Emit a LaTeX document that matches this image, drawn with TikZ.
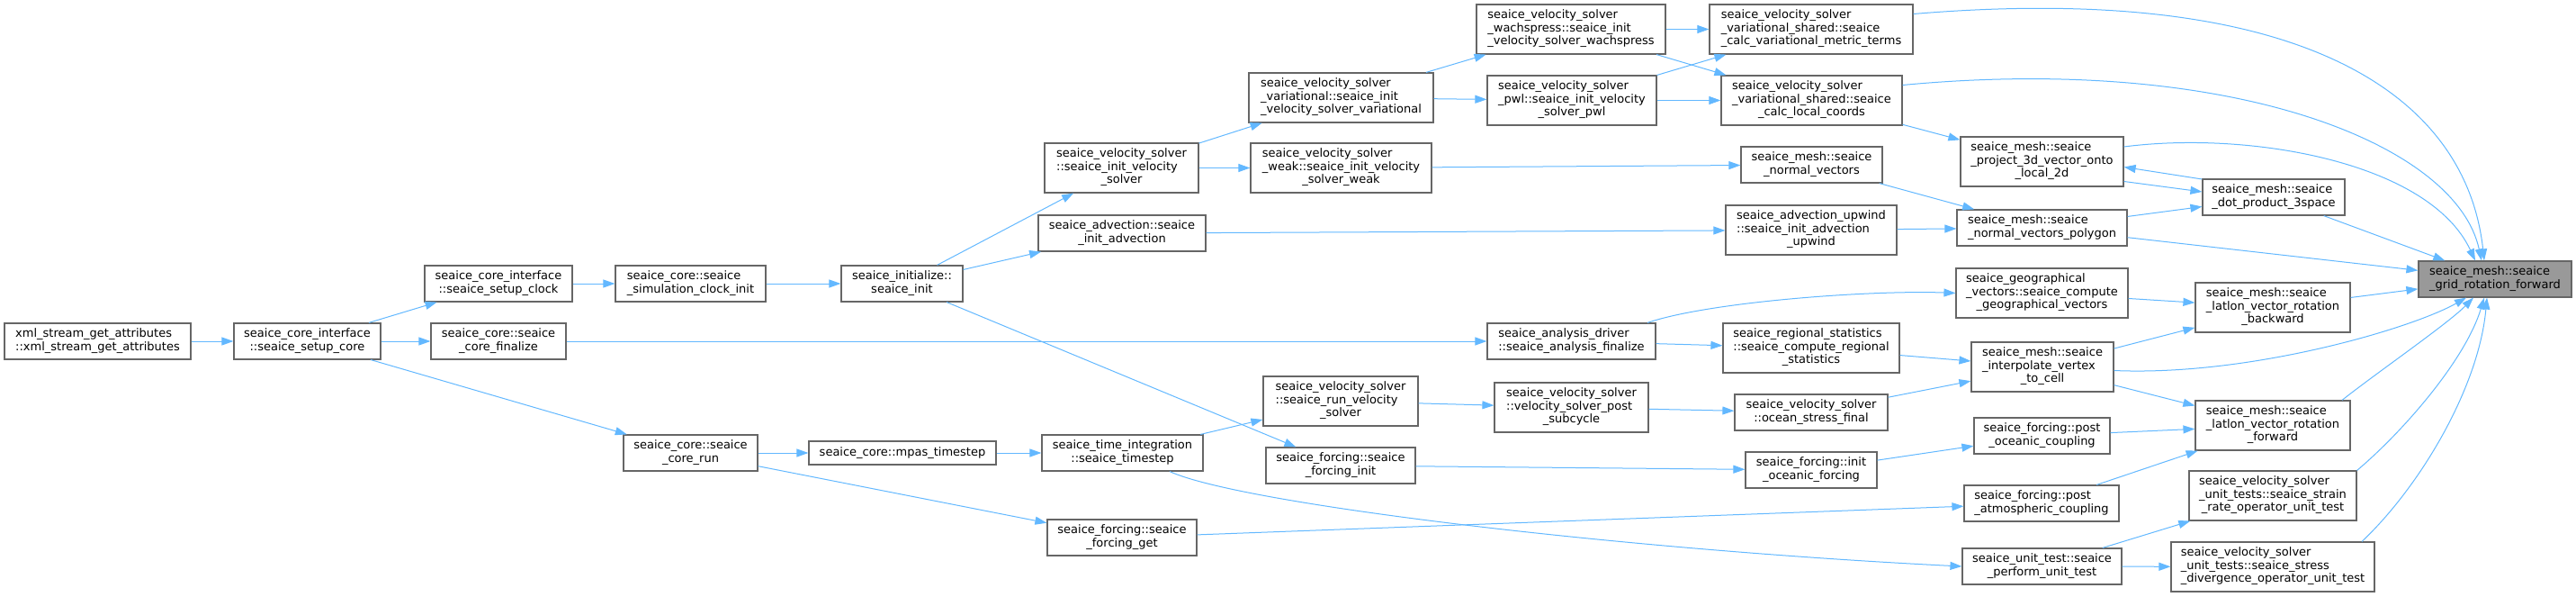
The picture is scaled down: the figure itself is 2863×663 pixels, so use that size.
\documentclass[tikz,border=0pt]{standalone}
\usepackage{fontspec}
\setmainfont{DejaVu Sans}
\usetikzlibrary{arrows.meta}
\definecolor{callblue}{HTML}{63B8FF}
\definecolor{boxgray}{HTML}{666666}
\definecolor{targetgray}{HTML}{999999}
\newcommand{\fnlabel}[2]{\begin{tabular}{@{}l@{}}#1\\\multicolumn{1}{@{}c@{}}{#2}\end{tabular}}
\begin{document}
\begin{tikzpicture}[x=1pt,y=-1pt,font=\fontsize{13}{14.5}\selectfont,
fn/.style={draw=boxgray,line width=1.2pt,fill=white,inner sep=0pt,minimum height=40pt},
tall/.style={minimum height=55pt},
calls/.style={draw=callblue,line width=1pt,-{Triangle[length=13pt,width=9pt]}}]
\useasboundingbox (0,0) rectangle (2863,663);
\node[fn,minimum width=207pt] (xml) at (108.5,379) {\fnlabel{xml\_stream\_get\_attributes}{::xml\_stream\_get\_attributes}};
\node[fn,minimum width=163pt] (setupcore) at (341.5,379) {\fnlabel{seaice\_core\_interface}{::seaice\_setup\_core}};
\node[fn,minimum width=164pt] (setupclock) at (554,315) {\fnlabel{seaice\_core\_interface}{::seaice\_setup\_clock}};
\node[fn,minimum width=150pt] (corefinalize) at (554,379) {\fnlabel{seaice\_core::seaice}{\_core\_finalize}};
\node[fn,minimum width=167pt] (clockinit) at (767.5,315) {\fnlabel{seaice\_core::seaice}{\_simulation\_clock\_init}};
\node[fn,minimum width=149pt] (corerun) at (767.5,503) {\fnlabel{seaice\_core::seaice}{\_core\_run}};
\node[fn,minimum width=208pt,minimum height=26pt] (mpastimestep) at (1003,503) {seaice\_core::mpas\_timestep};
\node[fn,minimum width=135pt] (seaiceinit) at (1002.5,315) {\fnlabel{seaice\_initialize::}{seaice\_init}};
\node[fn,minimum width=179pt] (timestep) at (1247.5,503) {\fnlabel{seaice\_time\_integration}{::seaice\_timestep}};
\node[fn,minimum width=166pt] (forcingget) at (1247,597) {\fnlabel{seaice\_forcing::seaice}{\_forcing\_get}};
\node[fn,tall,minimum width=171pt] (initvelsolver) at (1246.5,186.5) {\fnlabel{seaice\_velocity\_solver\\::seaice\_init\_velocity}{\_solver}};
\node[fn,minimum width=186pt] (initadvection) at (1247,259) {\fnlabel{seaice\_advection::seaice}{\_init\_advection}};
\node[fn,tall,minimum width=205pt] (variational) at (1490.5,108.5) {\fnlabel{seaice\_velocity\_solver\\\_variational::seaice\_init}{\_velocity\_solver\_variational}};
\node[fn,tall,minimum width=201pt] (weak) at (1490.5,186.5) {\fnlabel{seaice\_velocity\_solver\\\_weak::seaice\_init\_velocity}{\_solver\_weak}};
\node[fn,tall,minimum width=172pt] (runvelsolver) at (1490,445.5) {\fnlabel{seaice\_velocity\_solver\\::seaice\_run\_velocity}{\_solver}};
\node[fn,minimum width=166pt] (forcinginit) at (1490,517) {\fnlabel{seaice\_forcing::seaice}{\_forcing\_init}};
\node[fn,tall,minimum width=210pt] (wachspress) at (1746,32.5) {\fnlabel{seaice\_velocity\_solver\\\_wachspress::seaice\_init}{\_velocity\_solver\_wachspress}};
\node[fn,tall,minimum width=188pt] (pwl) at (1747,111.5) {\fnlabel{seaice\_velocity\_solver\\\_pwl::seaice\_init\_velocity}{\_solver\_pwl}};
\node[fn,minimum width=187pt] (analysisfinalize) at (1746.5,379) {\fnlabel{seaice\_analysis\_driver}{::seaice\_analysis\_finalize}};
\node[fn,tall,minimum width=171pt] (postsubcycle) at (1746.5,452.5) {\fnlabel{seaice\_velocity\_solver\\::velocity\_solver\_post}{\_subcycle}};
\node[fn,tall,minimum width=226pt] (metricterms) at (2013,32.5) {\fnlabel{seaice\_velocity\_solver\\\_variational\_shared::seaice}{\_calc\_variational\_metric\_terms}};
\node[fn,tall,minimum width=201pt] (localcoords) at (2013.5,111.5) {\fnlabel{seaice\_velocity\_solver\\\_variational\_shared::seaice}{\_calc\_local\_coords}};
\node[fn,minimum width=157pt] (normalvectors) at (2013.5,183) {\fnlabel{seaice\_mesh::seaice}{\_normal\_vectors}};
\node[fn,tall,minimum width=190pt] (advectionupwind) at (2013,255.5) {\fnlabel{seaice\_advection\_upwind\\::seaice\_init\_advection}{\_upwind}};
\node[fn,tall,minimum width=196pt] (regionalstats) at (2013,386.5) {\fnlabel{seaice\_regional\_statistics\\::seaice\_compute\_regional}{\_statistics}};
\node[fn,minimum width=170pt] (oceanstress) at (2013,458) {\fnlabel{seaice\_velocity\_solver}{::ocean\_stress\_final}};
\node[fn,minimum width=146pt] (initoceanic) at (2013,522) {\fnlabel{seaice\_forcing::init}{\_oceanic\_forcing}};
\node[fn,tall,minimum width=181pt] (project3d) at (2269.5,179.5) {\fnlabel{seaice\_mesh::seaice\\\_project\_3d\_vector\_onto}{\_local\_2d}};
\node[fn,minimum width=189pt] (polygon) at (2269.5,253) {\fnlabel{seaice\_mesh::seaice}{\_normal\_vectors\_polygon}};
\node[fn,tall,minimum width=191pt] (geovectors) at (2269.5,325.5) {\fnlabel{seaice\_geographical\\\_vectors::seaice\_compute}{\_geographical\_vectors}};
\node[fn,tall,minimum width=158pt] (interpolate) at (2270,407.5) {\fnlabel{seaice\_mesh::seaice\\\_interpolate\_vertex}{\_to\_cell}};
\node[fn,minimum width=151pt] (postoceanic) at (2269.5,484) {\fnlabel{seaice\_forcing::post}{\_oceanic\_coupling}};
\node[fn,minimum width=172pt] (postatmos) at (2269,559) {\fnlabel{seaice\_forcing::post}{\_atmospheric\_coupling}};
\node[fn,minimum width=177pt] (performtest) at (2269.5,629) {\fnlabel{seaice\_unit\_test::seaice}{\_perform\_unit\_test}};
\node[fn,minimum width=158pt] (dotproduct) at (2527,219) {\fnlabel{seaice\_mesh::seaice}{\_dot\_product\_3space}};
\node[fn,tall,minimum width=172pt] (latlonbackward) at (2526,341.5) {\fnlabel{seaice\_mesh::seaice\\\_latlon\_vector\_rotation}{\_backward}};
\node[fn,tall,minimum width=172pt] (latlonforward) at (2526,472.5) {\fnlabel{seaice\_mesh::seaice\\\_latlon\_vector\_rotation}{\_forward}};
\node[fn,tall,minimum width=186pt] (straintest) at (2526,550.5) {\fnlabel{seaice\_velocity\_solver\\\_unit\_tests::seaice\_strain}{\_rate\_operator\_unit\_test}};
\node[fn,tall,minimum width=226pt] (stresstest) at (2526,629.5) {\fnlabel{seaice\_velocity\_solver\\\_unit\_tests::seaice\_stress}{\_divergence\_operator\_unit\_test}};
\node[fn,fill=targetgray,minimum width=170pt] (target) at (2773,310) {\fnlabel{seaice\_mesh::seaice}{\_grid\_rotation\_forward}};
\draw[calls] (xml) -- (setupcore);
\draw[calls] (setupcore) -- (setupclock);
\draw[calls] (setupcore) -- (corefinalize);
\draw[calls] (setupcore) -- (corerun);
\draw[calls] (setupclock) -- (clockinit);
\draw[calls] (clockinit) -- (seaiceinit);
\draw[calls] (corefinalize) -- (analysisfinalize);
\draw[calls] (corerun) -- (mpastimestep);
\draw[calls] (corerun) -- (forcingget);
\draw[calls] (mpastimestep) -- (timestep);
\draw[calls] (seaiceinit) -- (initvelsolver);
\draw[calls] (seaiceinit) -- (initadvection);
\draw[calls] (seaiceinit) -- (forcinginit);
\draw[calls] (initvelsolver) -- (variational);
\draw[calls] (initvelsolver) -- (weak);
\draw[calls] (initadvection) -- (advectionupwind);
\draw[calls] (variational) -- (wachspress);
\draw[calls] (variational) -- (pwl);
\draw[calls] (wachspress) -- (metricterms);
\draw[calls] (wachspress) -- (localcoords);
\draw[calls] (pwl) -- (metricterms);
\draw[calls] (pwl) -- (localcoords);
\draw[calls] (weak) -- (normalvectors);
\draw[calls] (advectionupwind) -- (polygon);
\draw[calls] (timestep) -- (runvelsolver);
\draw[calls] (timestep.south) ++(52.5,0) .. controls (1380,560) and (1800,610) .. (performtest.west);
\draw[calls] (forcinginit) -- (initoceanic);
\draw[calls] (forcingget) -- (postatmos);
\draw[calls] (runvelsolver) -- (postsubcycle);
\draw[calls] (postsubcycle) -- (oceanstress);
\draw[calls] ([xshift=84.5pt]analysisfinalize.north) .. controls (1900,335) and (2080,322) .. (geovectors.west);
\draw[calls] (analysisfinalize) -- (regionalstats);
\draw[calls] (localcoords) -- (project3d);
\draw[calls] (normalvectors) -- (polygon);
\draw[calls] (regionalstats) -- (interpolate);
\draw[calls] (oceanstress) -- (interpolate);
\draw[calls] (initoceanic) -- (postoceanic);
\draw[calls] ([yshift=-22pt]project3d.east) -- ([yshift=6pt]dotproduct.west);
\draw[calls] ([yshift=20pt]dotproduct.west) -- ([yshift=-6pt]project3d.east);
\draw[calls] (polygon) -- (dotproduct);
\draw[calls] (geovectors) -- (latlonbackward);
\draw[calls] (interpolate) -- (latlonbackward);
\draw[calls] (interpolate) -- (latlonforward);
\draw[calls] (postoceanic) -- (latlonforward);
\draw[calls] (postatmos) -- (latlonforward);
\draw[calls] (performtest) -- (straintest);
\draw[calls] (performtest) -- (stresstest);
\draw[calls] ([yshift=17pt]metricterms.east) .. controls (2550,-20) and (2740,100) .. ([xshift=-12pt]target.north);
\draw[calls] ([yshift=17pt]localcoords.east) .. controls (2480,60) and (2730,160) .. ([xshift=-15pt]target.north);
\draw[calls] ([yshift=16.5pt]project3d.east) .. controls (2500,145) and (2700,180) .. ([xshift=-22pt]target.north);
\draw[calls] (dotproduct) -- (target);
\draw[calls] (polygon) -- (target);
\draw[calls] (latlonbackward) -- (target);
\draw[calls] ([yshift=-4pt]interpolate.east) .. controls (2500,418) and (2680,365) .. ([xshift=-32pt]target.south);
\draw[calls] ([xshift=77pt]latlonforward.north) .. controls (2640,415) and (2720,360) .. ([xshift=-24pt]target.south);
\draw[calls] (straintest.north east) .. controls (2670,480) and (2740,400) .. ([xshift=-12pt]target.south);
\draw[calls] ([xshift=99pt]stresstest.north) .. controls (2690,540) and (2755,430) .. ([xshift=-9pt]target.south);
\end{tikzpicture}
\end{document}
